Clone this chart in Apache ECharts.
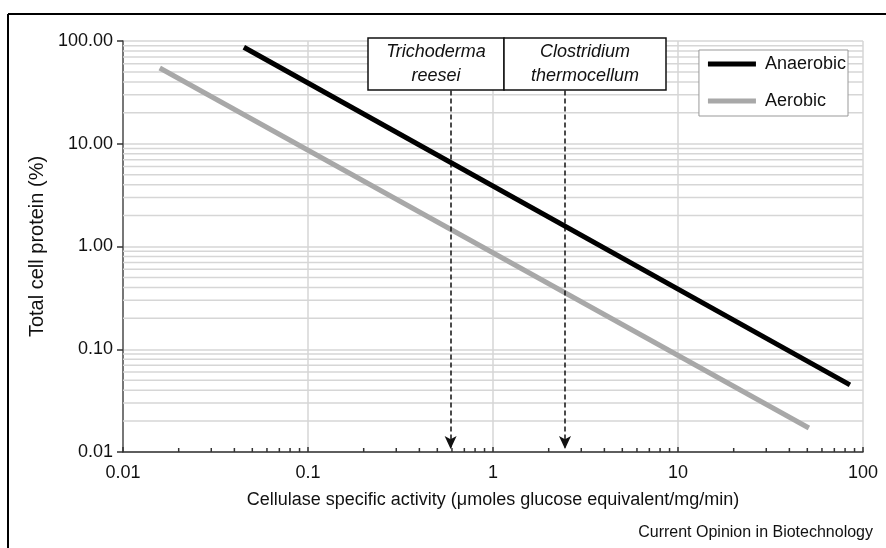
<!DOCTYPE html>
<html><head><meta charset="utf-8">
<script src="https://cdn.jsdelivr.net/npm/echarts@6/dist/echarts.min.js"></script>
<style>html,body{margin:0;padding:0;background:#fff}#c{width:886px;height:548px}</style>
</head><body><div id="c"></div>
<script>
// ---- data ----
const seriesNames = ['Anaerobic', 'Aerobic'];
const anaerobicX = [0.045, 85];
const anaerobicY = [87, 0.045];
const aerobicX = [0.0158, 51];
const aerobicY = [54.6, 0.0171];
const xTickValues = [0.01, 0.1, 1, 10, 100];
const xTickLabels = ['0.01', '0.1', '1', '10', '100'];
const yTickValues = [0.01, 0.1, 1, 10, 100];
const yTickLabels = ['0.01', '0.10', '1.00', '10.00', '100.00'];
const minorMultipliers = [2, 3, 4, 5, 6, 7, 8, 9];
const minorDecades = [0.01, 0.1, 1, 10];
const organismNames = [['Trichoderma', 'reesei'], ['Clostridium', 'thermocellum']];
const organismActivity = [0.59, 2.45];
const arrowTopValue = 33;
const xTitle = 'Cellulase specific activity (\u03bcmoles glucose equivalent/mg/min)';
const yTitle = 'Total cell protein (%)';
const credit = 'Current Opinion in Biotechnology';

const minorValues = [];
minorDecades.forEach(d => minorMultipliers.forEach(m => minorValues.push(+(d * m).toPrecision(3))));

function pickLabel(vals, labels, v) {
  let best = 0, bd = Infinity;
  vals.forEach((t, i) => { const d = Math.abs(Math.log10(t) - Math.log10(v)); if (d < bd) { bd = d; best = i; } });
  return bd < 0.01 ? labels[best] : '';
}

const FONT = 'Liberation Sans, Arial, Helvetica, sans-serif';
const chart = echarts.init(document.getElementById('c'));
const gridColor = '#d6d6d6';

const option = {
  animation: false,
  backgroundColor: '#fff',
  grid: { left: 123, right: 23, top: 41, bottom: 96 },
  legend: {
    data: seriesNames,
    orient: 'vertical',
    right: 38, top: 50,
    icon: 'rect', itemWidth: 48, itemHeight: 5, itemGap: 19,
    padding: [5, 2, 6, 9],
    backgroundColor: '#fff', borderColor: '#999', borderWidth: 1,
    textStyle: { fontFamily: FONT, fontSize: 18, color: '#111', padding: [0, 0, 0, 4] }
  },
  xAxis: {
    type: 'log', logBase: 10, min: 0.01, max: 100,
    name: xTitle, nameLocation: 'middle', nameGap: 39,
    nameTextStyle: { fontFamily: FONT, fontSize: 18, color: '#111' },
    axisLine: { lineStyle: { color: '#333', width: 1.5 } },
    axisTick: { inside: true, length: 5, lineStyle: { color: '#333', width: 1.5 } },
    axisLabel: { fontFamily: FONT, fontSize: 18, color: '#111', margin: 12,
      formatter: v => pickLabel(xTickValues, xTickLabels, v) },
    splitLine: { show: true, lineStyle: { color: gridColor, width: 1.5 } }
  },
  yAxis: {
    type: 'log', logBase: 10, min: 0.01, max: 100,
    name: yTitle, nameLocation: 'middle', nameGap: 76, nameRotate: 90,
    nameTextStyle: { fontFamily: FONT, fontSize: 20, color: '#111' },
    axisLine: { show: true, lineStyle: { color: '#555', width: 1.5 } },
    axisTick: { show: true, length: 6, lineStyle: { color: '#333', width: 1.5 } },
    axisLabel: { fontFamily: FONT, fontSize: 18, color: '#111', margin: 10,
      formatter: v => pickLabel(yTickValues, yTickLabels, v) },
    splitLine: { show: true, lineStyle: { color: gridColor, width: 1.5 } }
  },
  series: [
    {
      name: 'minorGridY', type: 'custom', z: 1, silent: true,
      data: minorValues.map(v => [1, v]),
      renderItem: (params, api) => {
        const cs = params.coordSys;
        const p = api.coord([1, api.value(1)]);
        return { type: 'line', shape: { x1: cs.x, y1: p[1], x2: cs.x + cs.width, y2: p[1] },
          style: { stroke: gridColor, lineWidth: 1.5 } };
      }
    },
    {
      name: 'minorTickX', type: 'custom', z: 4, silent: true,
      data: minorValues.map(v => [v, 1]),
      renderItem: (params, api) => {
        const cs = params.coordSys;
        const p = api.coord([api.value(0), 1]);
        const yb = cs.y + cs.height;
        return { type: 'line', shape: { x1: p[0], y1: yb, x2: p[0], y2: yb - 4 },
          style: { stroke: '#333', lineWidth: 1.5 } };
      }
    },
    {
      name: seriesNames[0], type: 'line', z: 5, symbol: 'none', color: '#000',
      lineStyle: { color: '#000', width: 5 },
      data: anaerobicX.map((x, i) => [x, anaerobicY[i]]),
      markLine: {
        silent: true, symbol: ['none', 'arrow'], symbolSize: [9, 13],
        label: { show: false },
        lineStyle: { color: '#111', type: [5, 3], width: 1.5 },
        data: organismActivity.map(a => [{ coord: [a, arrowTopValue] }, { coord: [a, 0.0107] }])
      }
    },
    {
      name: seriesNames[1], type: 'line', z: 4, symbol: 'none', color: '#a8a8a8',
      lineStyle: { color: '#a8a8a8', width: 5 },
      data: aerobicX.map((x, i) => [x, aerobicY[i]])
    }
  ],
  graphic: [
    { type: 'line', shape: { x1: 8, y1: 14, x2: 886, y2: 14 }, style: { stroke: '#000', lineWidth: 2 } },
    { type: 'line', shape: { x1: 8, y1: 14, x2: 8, y2: 548 }, style: { stroke: '#000', lineWidth: 2 } },
    { type: 'rect', shape: { x: 368, y: 38, width: 136, height: 52 }, z: 10,
      style: { fill: '#fff', stroke: '#111', lineWidth: 1.5 } },
    { type: 'rect', shape: { x: 504, y: 38, width: 162, height: 52 }, z: 10,
      style: { fill: '#fff', stroke: '#111', lineWidth: 1.5 } },
    { type: 'text', x: 436, y: 64, z: 11,
      style: { text: organismNames[0].join('\n'), font: 'italic 18px ' + FONT, fill: '#111',
        align: 'center', verticalAlign: 'middle', lineHeight: 24 } },
    { type: 'text', x: 585, y: 64, z: 11,
      style: { text: organismNames[1].join('\n'), font: 'italic 18px ' + FONT, fill: '#111',
        align: 'center', verticalAlign: 'middle', lineHeight: 24 } },
    { type: 'text', right: 13, top: 525, z: 11,
      style: { text: credit, font: '16px ' + FONT, fill: '#111' } }
  ]
};
chart.setOption(option);
</script>
</body></html>
